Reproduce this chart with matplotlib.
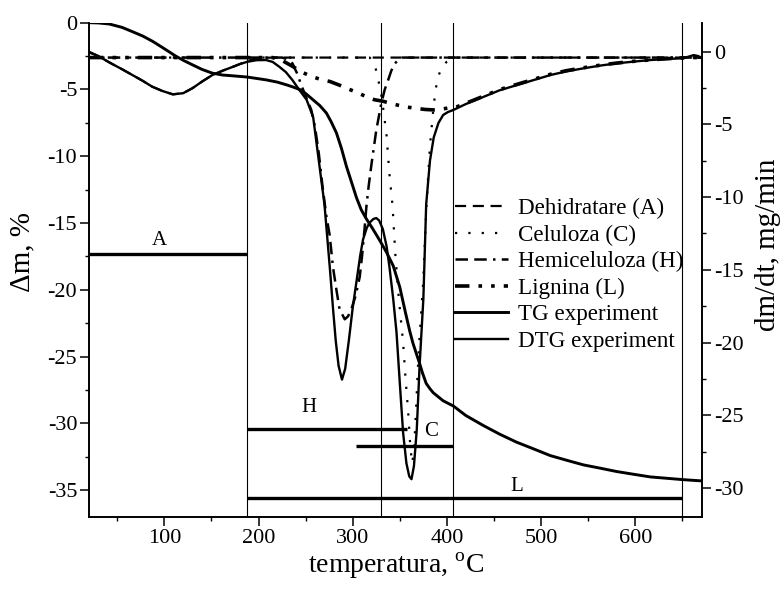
import matplotlib
matplotlib.use("Agg")
import matplotlib.pyplot as plt
from matplotlib.ticker import MultipleLocator

plt.rcParams['font.family'] = ['Liberation Serif', 'DejaVu Serif']
plt.rcParams['mathtext.fontset'] = 'custom'
plt.rcParams['mathtext.rm'] = 'Liberation Serif'
plt.rcParams['axes.unicode_minus'] = False

# experiment, TG (left axis, %)
tg_t = [20, 30, 41.5, 55, 66, 77, 87.6, 100, 112, 121, 130, 140, 151, 162, 173, 188, 208, 220,
        229.5, 236, 243.6, 250, 257.8, 265, 272, 277, 282.7, 288, 293.3, 299, 304, 309, 314.6,
        321, 328.7, 336, 343, 350, 356, 360.6, 364, 367.7, 371, 374, 378, 382, 385.5, 396, 407,
        420, 438.6, 456, 474, 492, 509.6, 527, 545, 563, 580.5, 598, 616, 633, 650, 660, 671]
tg_v = [0.0, -0.02, -0.1, -0.35, -0.67, -1.0, -1.4, -1.95, -2.5, -2.85, -3.16, -3.5, -3.78, -3.92,
        -3.98, -4.07, -4.28, -4.45, -4.65, -4.8, -5.0, -5.3, -5.77, -6.2, -6.76, -7.4, -8.25, -9.4,
        -10.75, -12.0, -13.1, -14.0, -14.7, -15.4, -16.3, -17.2, -18.2, -19.8, -21.7, -23.1, -24.0,
        -24.8, -25.5, -26.2, -27.0, -27.4, -27.7, -28.3, -28.7, -29.4, -30.15, -30.8, -31.4, -31.9,
        -32.4, -32.75, -33.1, -33.35, -33.6, -33.8, -34.0, -34.1, -34.2, -34.25, -34.3]

# experiment, DTG (right axis, mg/min)
dtg_t = [20, 30, 42, 55, 66, 77, 87, 98, 109, 120, 130, 140, 151, 162, 173, 180, 188, 198, 208,
         215, 222, 229, 236, 243, 251, 258, 262, 266, 270, 273, 276, 279, 282, 285, 288.6, 292,
         296, 300, 304, 308, 311, 315, 318, 322, 325, 328, 332, 336, 339, 343, 346.5, 350, 353.5,
         357, 360, 362.4, 365, 368, 371, 375, 378, 382, 386, 391, 396, 401, 407, 420, 439, 456,
         474, 492, 510, 527, 545, 563, 580, 598, 616, 633, 650, 656, 662, 667, 671]
dtg_v = [0.0, -0.3, -0.75, -1.2, -1.6, -2.0, -2.4, -2.7, -2.93, -2.85, -2.5, -2.05, -1.6, -1.3,
         -1.03, -0.85, -0.69, -0.58, -0.57, -0.7, -1.03, -1.4, -1.95, -2.6, -3.3, -4.5, -6.5, -8.5,
         -10.5, -12.8, -15.1, -17.6, -19.9, -21.6, -22.55, -21.8, -19.8, -17.6, -15.8, -14.0, -12.9,
         -12.1, -11.75, -11.5, -11.44, -11.6, -12.2, -13.4, -14.8, -17.0, -19.3, -22.8, -26.2,
         -28.3, -29.2, -29.4, -28.5, -26.0, -21.6, -17.0, -10.5, -7.5, -5.9, -4.9, -4.35, -4.15,
         -4.0, -3.6, -3.1, -2.65, -2.3, -1.95, -1.6, -1.35, -1.14, -0.95, -0.8, -0.68, -0.57,
         -0.5, -0.45, -0.35, -0.23, -0.3, -0.45]

# deconvoluted components (right axis)
a_t = [20, 30, 42, 55, 66, 77, 87, 98, 109, 120, 130, 140, 151, 162, 173, 180, 188, 195, 205,
       215, 671]
a_v = [-0.05, -0.3, -0.75, -1.2, -1.6, -2.0, -2.4, -2.7, -2.93, -2.85, -2.5, -2.05, -1.6, -1.3,
       -1.03, -0.85, -0.65, -0.5, -0.42, -0.4, -0.4]

c_t = [20, 318, 322, 325, 330, 333, 336, 338.8, 342.3, 345.4, 349, 353.5, 356, 358.9, 361, 363,
       365, 367, 369, 371, 374.8, 378.4, 382, 385.5, 388, 390.8, 395, 399.7, 405, 410, 671]
c_v = [-0.4, -0.4, -0.7, -1.3, -2.8, -4.2, -5.8, -8.3, -10.6, -14.1, -17.0, -20.0, -22.4, -24.8,
       -27.0, -28.3, -27.5, -25.0, -22.0, -19.6, -15.9, -10.4, -6.5, -4.0, -2.6, -1.7, -1.0, -0.7,
       -0.5, -0.4, -0.4]

h_t = [20, 225, 230, 236, 241, 246, 251, 256, 260, 264, 268, 272, 275.5, 279, 283, 286, 291.5,
       295, 298.6, 303, 307.4, 310, 312.8, 314.6, 317, 320, 325, 330.5, 334, 337.6, 341, 344.7,
       349, 353, 671]
h_v = [-0.4, -0.4, -0.5, -0.8, -1.5, -2.4, -3.2, -4.0, -5.2, -7.0, -9.3, -11.3, -12.6, -14.8,
       -16.5, -17.7, -18.4, -18.2, -17.7, -16.8, -15.5, -14.0, -12.0, -10.6, -9.2, -7.7, -5.4,
       -3.5, -2.6, -1.95, -1.3, -0.8, -0.55, -0.4, -0.4]

l_t = [20, 215, 225, 236, 246, 256, 266, 276, 286, 297, 306, 315, 323, 332, 340, 347, 357, 368,
       377, 385.5, 394, 403, 410, 420, 439, 456, 474, 492, 510, 527, 545, 563, 580, 598, 616, 633,
       650, 660, 671]
l_v = [-0.4, -0.4, -0.6, -1.0, -1.4, -1.7, -1.9, -2.05, -2.3, -2.6, -2.85, -3.1, -3.3, -3.4,
       -3.55, -3.66, -3.8, -3.9, -3.97, -4.0, -3.95, -3.85, -3.8, -3.55, -3.05, -2.6, -2.25, -1.9,
       -1.55, -1.3, -1.1, -0.92, -0.78, -0.66, -0.56, -0.48, -0.43, -0.4, -0.4]

# stage limits and bars (left axis)
vlines = [188, 330, 407, 650]
bar_names = ['A', 'H', 'C', 'L']
bar_start = [20, 188, 303, 188]
bar_end = [188, 358, 407, 650]
bar_y = [-17.35, -30.4, -31.7, -35.55]
lab_x = [95, 254, 383, 474]
lab_y = [-16.3, -28.8, -30.6, -34.7]

fig = plt.figure(figsize=(7.83, 5.92), dpi=100)
ax = fig.add_axes([0.1137, 0.1267, 0.783, 0.835])
ax2 = ax.twinx()

for v in vlines:
    ax.axvline(v, color='black', lw=0.8)
for n, x0, x1, y, tx, ty in zip(bar_names, bar_start, bar_end, bar_y, lab_x, lab_y):
    ax.plot([x0, x1], [y, y], color='black', lw=2.4, solid_capstyle='butt')
    ax.text(tx, ty, n, ha='center', va='center', fontsize=15)

ha, = ax2.plot(a_t, a_v, color='black', lw=1.6, linestyle=(0, (5, 3)))
hc, = ax2.plot(c_t, c_v, color='black', lw=1.6, linestyle=(0, (1, 5)))
hh, = ax2.plot(h_t, h_v, color='black', lw=1.8, linestyle=(0, (5, 2.5, 5, 2.5, 1, 2.5)))
hl, = ax2.plot(l_t, l_v, color='black', lw=2.6, linestyle=(0, (4, 2.5, 1, 2.5, 1, 2.5)))
htg, = ax.plot(tg_t, tg_v, color='black', lw=2.1)
hdtg, = ax2.plot(dtg_t, dtg_v, color='black', lw=1.7)

ax.set_xlim(20, 671)
ax.set_ylim(-37, 0)
ax2.set_ylim(-32, 2)

ax.xaxis.set_major_locator(MultipleLocator(100))
ax.xaxis.set_minor_locator(MultipleLocator(50))
ax.yaxis.set_major_locator(MultipleLocator(5))
ax.yaxis.set_minor_locator(MultipleLocator(2.5))
ax2.yaxis.set_major_locator(MultipleLocator(5))
ax2.yaxis.set_minor_locator(MultipleLocator(2.5))

for a in (ax, ax2):
    a.spines['top'].set_visible(False)
    for s in a.spines.values():
        s.set_linewidth(1.2)
    a.tick_params(which='major', direction='out', length=6.5, width=1.1, labelsize=16, pad=2)
    a.tick_params(which='minor', direction='out', length=3.2, width=1.0)

ax.set_xlabel(r'temperatura, $^{\mathrm{o}}$C', fontsize=20, labelpad=2)
fig.text(22.5 / 783, 1 - 252.5 / 592, 'Δm, %', rotation=90, fontsize=21,
         ha='center', va='center')
fig.text(768 / 783, 1 - 245 / 592, 'dm/dt, mg/min', rotation=90, fontsize=21,
         ha='center', va='center')

fig.legend([ha, hc, hh, hl, htg, hdtg],
           ['Dehidratare (A)', 'Celuloza (C)', 'Hemiceluloza (H)', 'Lignina (L)',
            'TG experiment', 'DTG experiment'],
           loc='upper left', bbox_to_anchor=(455 / 783, 1 - 198 / 592),
           frameon=False, fontsize=16.6, handlelength=2.3, handletextpad=0.43,
           labelspacing=0.235, borderpad=0, borderaxespad=0)

fig.savefig('out.png', dpi=100)
